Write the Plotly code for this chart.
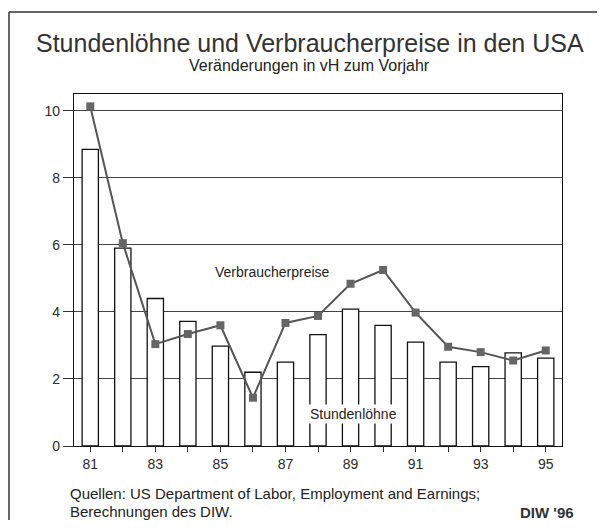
import plotly.graph_objects as go

years = [81, 82, 83, 84, 85, 86, 87, 88, 89, 90, 91, 92, 93, 94, 95]
stundenloehne = [8.85, 5.9, 4.4, 3.72, 2.98, 2.2, 2.5, 3.32, 4.08, 3.6, 3.1, 2.5, 2.37, 2.78, 2.62]
verbraucherpreise = [10.13, 6.05, 3.04, 3.34, 3.6, 1.44, 3.67, 3.88, 4.84, 5.25, 3.98, 2.96, 2.8, 2.55, 2.85]
x_ticklabels = ["81", "", "83", "", "85", "", "87", "", "89", "", "91", "", "93", "", "95"]
y_ticks = [0, 2, 4, 6, 8, 10]

FONT = "Liberation Sans, Arial, sans-serif"
TXT = "#2b2b2b"

fig = go.Figure()
fig.add_trace(go.Bar(
    x=years, y=stundenloehne, width=0.5,
    marker=dict(color="white", line=dict(color="#111111", width=1.3)),
    showlegend=False,
))
fig.add_trace(go.Scatter(
    x=years, y=verbraucherpreise, mode="lines+markers",
    line=dict(color="#555555", width=2),
    marker=dict(symbol="square", size=8, color="#666666"),
    showlegend=False,
))

# page body has an 8px margin: figure is 589x512 so page stays 605x528
fig.update_layout(
    width=589, height=512,
    margin=dict(l=66, r=35, t=86, b=74),
    paper_bgcolor="white", plot_bgcolor="white",
    font=dict(family=FONT, color=TXT, size=14),
    xaxis=dict(range=[80.5, 95.5], tickvals=years, ticktext=x_ticklabels,
               ticks="outside", ticklen=5, tickcolor="#333333",
               showline=True, linecolor="#111111", linewidth=1.3, mirror=True,
               showgrid=False, zeroline=False, tickfont=dict(size=14)),
    yaxis=dict(range=[0, 10.5], tickvals=y_ticks,
               ticks="outside", ticklen=10, tickcolor="#333333",
               showline=True, linecolor="#111111", linewidth=1.3, mirror=True,
               showgrid=True, gridcolor="#444444", gridwidth=1.3,
               zeroline=False, tickfont=dict(size=14)),
    bargap=0.5,
)

fig.add_annotation(text="Stundenlöhne und Verbraucherpreise in den USA",
                   xref="paper", yref="paper", x=0.4836, y=1.1904,
                   showarrow=False, font=dict(size=25, color="#333333"))
fig.add_annotation(text="Veränderungen in vH zum Vorjahr",
                   xref="paper", yref="paper", x=0.4836, y=1.1108,
                   showarrow=False, font=dict(size=16, color="#222222"))
fig.add_annotation(text="Verbraucherpreise", x=86.6, y=5.19,
                   showarrow=False, font=dict(size=14, color="#222222"),
                   bgcolor="white")
fig.add_annotation(text="Stundenlöhne", x=89.08, y=0.95,
                   showarrow=False, font=dict(size=14, color="#222222"),
                   bgcolor="white")
fig.add_annotation(text="Quellen: US Department of Labor, Employment and Earnings;",
                   xref="paper", yref="paper", x=-0.0123, y=-0.136,
                   xanchor="left", yanchor="middle",
                   showarrow=False, font=dict(size=15, color="#222222"))
fig.add_annotation(text="Berechnungen des DIW.",
                   xref="paper", yref="paper", x=-0.0123, y=-0.185,
                   xanchor="left", yanchor="middle",
                   showarrow=False, font=dict(size=15, color="#222222"))
fig.add_annotation(text="<b>DIW '96</b>",
                   xref="paper", yref="paper", x=1.028, y=-0.1875,
                   xanchor="right", yanchor="middle",
                   showarrow=False, font=dict(size=15, color="#333333"))

# outer frame (top and left edges)
fig.add_shape(type="line", xref="paper", yref="paper",
              x0=-0.1332, y0=1.233, x1=1.072, y1=1.233,
              line=dict(color="#333333", width=1.5))
fig.add_shape(type="line", xref="paper", yref="paper",
              x0=-0.1332, y0=1.233, x1=-0.1332, y1=-0.21,
              line=dict(color="#333333", width=1.5))

fig.write_html("out.html")
